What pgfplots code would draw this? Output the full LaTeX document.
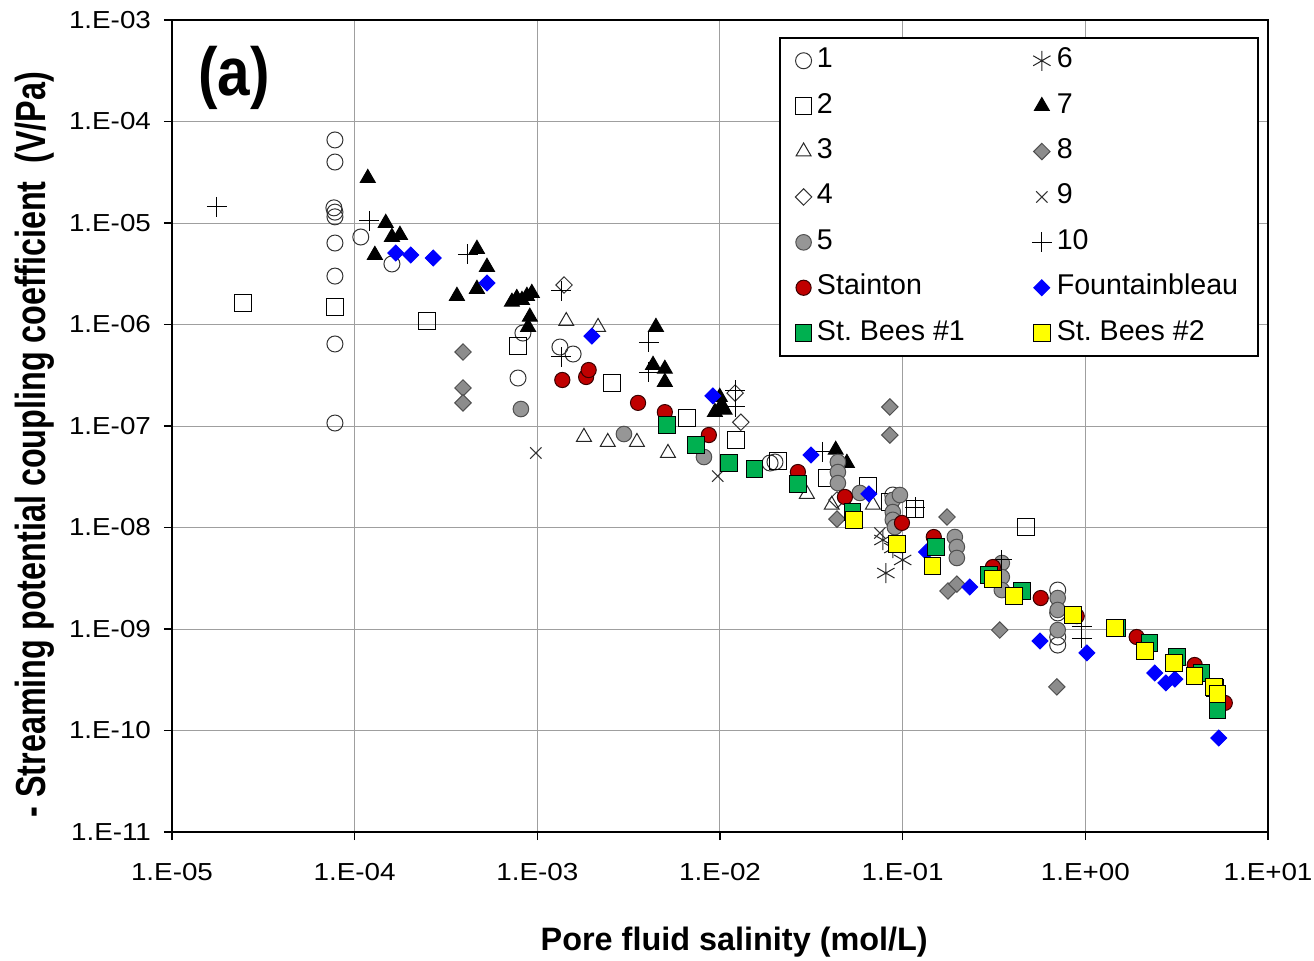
\documentclass[border=0pt]{standalone}
\usepackage{graphicx}
\usepackage{pgfplots}
\pgfplotsset{compat=1.18}
\usetikzlibrary{calc}
\usepackage{fontspec}
\setmainfont{Liberation Sans}
\newfontfamily\tickfont{Liberation Sans}[FakeStretch=1.13]
\definecolor{stred}{RGB}{192,0,0}
\definecolor{fblue}{RGB}{0,0,255}
\definecolor{sbgreen}{RGB}{0,176,80}
\definecolor{sbyellow}{RGB}{255,255,0}
\definecolor{gfill}{RGB}{150,150,150}
\definecolor{gedge}{RGB}{80,80,80}
\definecolor{dfill}{RGB}{140,140,140}
\begin{document}
\begin{tikzpicture}
\begin{axis}[
  scale only axis,
  width=548pt, height=406pt,
  xmode=log, ymode=log,
  xmin=1e-5, xmax=10, ymin=1e-11, ymax=1e-3,
  xtick={1e-5,1e-4,1e-3,1e-2,1e-1,1,10},
  xticklabels={1.E-05,1.E-04,1.E-03,1.E-02,1.E-01,1.E+00,1.E+01},
  ytick={1e-11,1e-10,1e-9,1e-8,1e-7,1e-6,1e-5,1e-4,1e-3},
  yticklabels={1.E-11,1.E-10,1.E-09,1.E-08,1.E-07,1.E-06,1.E-05,1.E-04,1.E-03},
  xminorticks=false, yminorticks=false,
  tick pos=left, tick align=outside, major tick length=4pt,
  tick style={black, line width=0.6pt},
  axis line style={black, line width=1pt},
  grid=major, major grid style={gray!75, line width=0.5pt},
  ticklabel style={font=\tickfont\fontsize{12.3}{14}\selectfont},
  xticklabel style={yshift=-8pt},
  yticklabel style={xshift=-3pt},
  xlabel={Pore fluid salinity (mol/L)},
  ylabel={\scalebox{0.77}[1]{- Streaming potential coupling coefficient\ \ (V/Pa)}},
  xlabel style={at={(axis description cs:0.513,-0.1355)}, anchor=center, font=\bfseries\fontsize{16.2}{18}\selectfont},
  ylabel style={at={(axis description cs:-0.125,0.477)}, anchor=center, rotate=0, font=\bfseries\fontsize{21}{24}\selectfont},
  legend columns=2,
  legend cell align=left,
  legend image code/.code={\draw[mark repeat=2,mark phase=2] plot coordinates {(0cm,0cm)(0.17cm,0cm)(0.34cm,0cm)};},
  legend style={at={(axis description cs:0.554,0.979)}, anchor=north west, draw=black, line width=1pt,
    font=\fontsize{14.3}{16}\selectfont, fill=white, inner xsep=7.5pt, inner ysep=0pt, row sep=0pt,
    nodes={text height=10pt, text depth=3pt, inner ysep=4.85pt, inner xsep=2.5pt},
    /tikz/column 2/.style={column sep=31pt}},
  every axis plot/.append style={only marks, line width=0.5pt},
  clip=false,
]
% 1
\addplot[mark=o, draw=black!80, mark size=4pt] coordinates {
(7.8e-5,6.58e-5)(7.8e-5,3.99e-5)(7.7e-5,1.41e-5)(7.8e-5,1.28e-5)(7.8e-5,1.15e-5)(7.8e-5,6.35e-6)(7.8e-5,3.0e-6)(7.8e-5,6.43e-7)(7.8e-5,1.07e-7)(1.08e-4,7.28e-6)(1.60e-4,3.95e-6)(8.34e-4,8.24e-7)(7.84e-4,2.97e-7)(1.33e-3,6.0e-7)(1.57e-3,5.12e-7)(1.88e-2,4.32e-8)(2.0e-2,4.42e-8)(8.83e-2,2.09e-8)(0.706,2.42e-9)(0.706,1.44e-9)(0.706,8.34e-10)(0.706,6.95e-10)};
\addlegendentry{1}
% 6
\addplot[mark=asterisk, draw=black!85, mark size=5pt] coordinates {
(7.8e-2,7.53e-9)(8.09e-2,3.56e-9)(0.100,4.79e-9)(8.83e-2,6.28e-9)};
\addlegendentry{6}
% 2
\addplot[mark=square, draw=black, mark size=4.2pt] coordinates {
(2.45e-5,1.63e-6)(7.8e-5,1.49e-6)(2.49e-4,1.08e-6)(7.84e-4,6.14e-7)(2.56e-3,2.65e-7)(6.59e-3,1.20e-7)(1.22e-2,7.28e-8)(2.07e-2,4.52e-8)(3.85e-2,3.08e-8)(6.46e-2,2.56e-8)(8.51e-2,1.78e-8)(0.117,1.52e-8)(0.472,1.01e-8)};
\addlegendentry{2}
% 7
\addplot[mark=triangle*, draw=black, fill=black, mark size=4.3pt] coordinates {
(1.18e-4,2.77e-5)(1.48e-4,1.0e-5)(1.60e-4,7.28e-6)(1.77e-4,7.62e-6)(1.29e-4,4.84e-6)(3.63e-4,1.91e-6)(4.67e-4,5.55e-6)(5.30e-4,3.69e-6)(4.67e-4,2.24e-6)(7.26e-4,1.67e-6)(7.72e-4,1.82e-6)(8.24e-4,1.74e-6)(8.77e-4,1.91e-6)(9.33e-4,2.04e-6)(9.1e-4,1.19e-6)(8.9e-4,9.44e-7)(4.46e-3,9.44e-7)(4.30e-3,3.99e-7)(4.99e-3,3.65e-7)(4.99e-3,2.71e-7)(9.97e-3,1.93e-7)(9.38e-3,1.37e-7)(1.06e-2,1.44e-7)(1.02e-2,1.61e-7)(4.30e-2,5.81e-8)(4.95e-2,4.32e-8)};
\addlegendentry{7}
% 3
\addplot[mark=triangle, draw=black!85, mark size=4.3pt] coordinates {
(1.44e-3,1.08e-6)(2.15e-3,9.44e-7)(1.80e-3,7.8e-8)(2.43e-3,6.95e-8)(3.51e-3,6.95e-8)(5.19e-3,5.42e-8)(2.99e-2,2.14e-8)(4.09e-2,1.67e-8)(6.87e-2,1.67e-8)};
\addlegendentry{3}
% 8
\addplot[mark=square*, mark options={rotate=45}, draw=gedge, fill=dfill, mark size=2.9pt] coordinates {
(3.92e-4,5.36e-7)(3.92e-4,2.37e-7)(3.92e-4,1.69e-7)(8.51e-2,1.54e-7)(8.51e-2,8.15e-8)(4.37e-2,1.21e-8)(0.175,1.27e-8)(0.177,2.37e-9)(0.198,2.77e-9)(0.340,9.77e-10)(0.698,2.69e-10)};
\addlegendentry{8}
% 4
\addplot[mark=square, mark options={rotate=45}, draw=black!80, mark size=2.9pt] coordinates {
(1.40e-3,2.45e-6)(1.21e-2,2.11e-7)(1.30e-2,1.09e-7)(4.37e-2,1.87e-8)};
\addlegendentry{4}
% 9
\addplot[mark=x, draw=black!80, mark size=4pt] coordinates {
(9.81e-4,5.42e-8)(9.72e-3,3.21e-8)(7.5e-2,8.83e-9)};
\addlegendentry{9}
% 5
\addplot[mark=*, draw=gedge, fill=gfill, mark size=3.9pt] coordinates {
(8.13e-4,1.47e-7)(2.98e-3,8.34e-8)(8.17e-3,4.95e-8)(4.42e-2,4.42e-8)(4.42e-2,3.52e-8)(4.42e-2,2.74e-8)(5.83e-2,2.19e-8)(8.83e-2,1.87e-8)(8.83e-2,1.42e-8)(8.83e-2,1.19e-8)(9.06e-2,1.01e-8)(9.66e-2,2.09e-8)(0.193,8.06e-9)(0.198,6.43e-9)(0.198,5.01e-9)(0.349,4.47e-9)(0.349,3.25e-9)(0.349,2.42e-9)(0.706,2.02e-9)(0.706,1.54e-9)(0.706,9.77e-10)};
\addlegendentry{5}
% 10
\addplot[mark=+, draw=black, mark size=5pt] coordinates {
(1.76e-5,1.44e-5)(1.20e-4,1.05e-5)(4.17e-4,4.95e-6)(1.35e-3,2.14e-6)(1.35e-3,4.79e-7)(4.08e-3,6.72e-7)(4.08e-3,3.40e-7)(1.21e-2,2.26e-7)(1.21e-2,1.54e-7)(3.66e-2,5.55e-8)(0.117,1.59e-8)(0.349,4.79e-9)(0.957,1.05e-9)(0.957,8.15e-10)};
\addlegendentry{10}
% Stainton
\addplot[mark=*, draw=black!70!stred, fill=stred, mark size=3.8pt] coordinates {
(1.37e-3,2.84e-7)(1.85e-3,3.04e-7)(1.91e-3,3.56e-7)(3.56e-3,1.69e-7)(4.99e-3,1.37e-7)(8.69e-3,8.15e-8)(2.67e-2,3.52e-8)(4.83e-2,2.0e-8)(9.91e-2,1.11e-8)(0.148,8.06e-9)(0.312,4.08e-9)(0.570,2.02e-9)(0.897,1.34e-9)(1.91,8.34e-10)(3.97,4.42e-10)(5.80,1.87e-10)};
\addlegendentry{Stainton}
% Fountainbleau
\addplot[mark=square*, mark options={rotate=45}, draw=fblue, fill=fblue, mark size=2.8pt] coordinates {
(1.68e-4,5.06e-6)(2.03e-4,4.84e-6)(2.69e-4,4.52e-6)(5.30e-4,2.56e-6)(1.99e-3,7.7e-7)(9.14e-3,1.98e-7)(3.15e-2,5.18e-8)(6.53e-2,2.14e-8)(0.135,5.74e-9)(0.233,2.59e-9)(0.564,7.62e-10)(1.02,5.81e-10)(2.40,3.69e-10)(2.76,2.94e-10)(3.09,3.21e-10)(5.38,8.43e-11)};
\addlegendentry{Fountainbleau}
% St. Bees #1
\addplot[mark=square*, draw=black, fill=sbgreen, mark size=4.1pt] coordinates {
(5.12e-3,1.02e-7)(7.38e-3,6.5e-8)(1.12e-2,4.32e-8)(1.54e-2,3.77e-8)(2.67e-2,2.68e-8)(5.33e-2,1.42e-8)(0.152,6.43e-9)(0.297,3.40e-9)(0.449,2.37e-9)(1.49,1.02e-9)(2.25,7.28e-10)(3.17,5.30e-10)(4.34,3.69e-10)(5.12,2.62e-10)(5.31,1.59e-10)};
\addlegendentry{St.\ Bees \#1}
% St. Bees #2
\addplot[mark=square*, draw=black, fill=sbyellow, mark size=4.1pt] coordinates {
(5.41e-2,1.19e-8)(9.29e-2,6.87e-9)(0.146,4.18e-9)(0.312,3.11e-9)(0.406,2.11e-9)(0.855,1.37e-9)(1.45,1.02e-9)(2.12,6.07e-10)(3.05,4.62e-10)(3.97,3.44e-10)(5.05,2.69e-10)(5.31,2.29e-10)};
\addlegendentry{St.\ Bees \#2}
\node[font=\bfseries\fontsize{34}{38}\selectfont] at (axis description cs:0.0566,0.929) {\scalebox{0.86}[1]{(a)}};
\end{axis}
\pgfresetboundingbox
\useasboundingbox ($(current axis.south west)+(-86pt,-64.5pt)$) rectangle ($(current axis.north east)+(23pt,10pt)$);
\end{tikzpicture}
\end{document}
